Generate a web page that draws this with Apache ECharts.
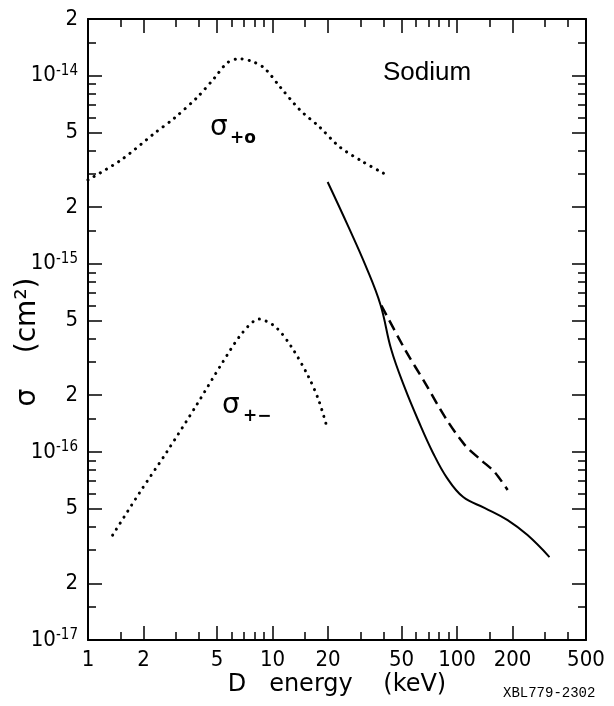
<!DOCTYPE html>
<html>
<head>
<meta charset="utf-8">
<script src="https://cdn.jsdelivr.net/npm/echarts@6/dist/echarts.min.js"></script>
<style>
  html, body { margin: 0; padding: 0; background: #fff; }
  #chart { width: 614px; height: 706px; }
</style>
</head>
<body>
<div id="chart"></div>
<script>
// D energy (keV) and cross section sigma (cm^2)
const plusZeroE = [1, 1.51, 2.3, 2.94, 3.92, 4.84, 5.69, 6.6, 7.56, 9.0, 11, 14.1, 18, 23.1, 31.1, 39.9]
const plusZeroSigma = [2.79e-15, 3.56e-15, 4.95e-15, 5.95e-15, 7.69e-15, 9.7e-15, 1.17e-14, 1.23e-14, 1.2e-14, 1.1e-14, 8.7e-15, 6.56e-15, 5.33e-15, 4.18e-15, 3.47e-15, 3.03e-15]

const plusMinusE = [1.36, 1.91, 2.67, 3.87, 5.34, 6.85, 8.46, 10.4, 12.7, 15.7, 17.8, 19.7]
const plusMinusSigma = [3.61e-17, 6.1e-17, 9.97e-17, 1.77e-16, 2.97e-16, 4.28e-16, 5.08e-16, 4.61e-16, 3.6e-16, 2.5e-16, 1.88e-16, 1.36e-16]

const solidE = [19.9, 25.8, 31.9, 38.5, 44, 52, 62, 74, 88, 108, 141.6, 188, 241, 317]
const solidSigma = [2.72e-15, 1.57e-15, 9.8e-16, 6.04e-16, 3.5e-16, 2.2e-16, 1.45e-16, 9.9e-17, 7.3e-17, 5.75e-17, 5.03e-17, 4.34e-17, 3.61e-17, 2.76e-17]

const dashedE = [38.9, 52.5, 67.2, 86.1, 110, 134.7, 160, 188]
const dashedSigma = [6.0e-16, 3.47e-16, 2.32e-16, 1.53e-16, 1.09e-16, 9.06e-17, 7.8e-17, 6.27e-17]

// tick labels
const xMajorTicks = [1, 2, 5, 10, 20, 50, 100, 200, 500]
const xMinorTicks = [1.5, 3, 4, 6, 7, 8, 9, 15, 30, 40, 60, 70, 80, 90, 150, 300, 400]
const yMajorTicks = [1e-17, 2e-17, 5e-17, 1e-16, 2e-16, 5e-16, 1e-15, 2e-15, 5e-15, 1e-14, 2e-14]
const yMinorMantissa = [1.5, 3, 4, 6, 7, 8, 9]
const yDecades = [-17, -16, -15, -14]

// the y axis works in units of 1e-17 cm^2 (log axis dislikes tiny numbers)
const UNIT = 1e-17
const toUnit = s => Math.round(s / UNIT * 1e6) / 1e6
const pairs = (xs, ys) => xs.map((x, i) => [x, toUnit(ys[i])])

const yMinorTicks = []
yDecades.forEach(d => yMinorMantissa.forEach(m => {
  const v = m * Math.pow(10, d)
  if (v < 2e-14) yMinorTicks.push(v)
}))

const numFont = '"Liberation Sans Narrow", "DejaVu Sans Condensed", "Liberation Sans", sans-serif'
const textFont = '"DejaVu Sans", "Liberation Sans", sans-serif'

const yLabel = v => {
  const p = Math.log10(v)
  const r = Math.round(p)
  if (Math.abs(p - r) < 1e-6) return '{b|10}{s|' + (r - 17) + '}'
  return '{b|' + Math.round(v / Math.pow(10, Math.floor(p + 1e-9))) + '}'
}

const line = { show: true, lineStyle: { color: '#000', width: 2 } }
const noLine = { show: false }

const xAx = (pos, ticks, len, withLine, withLabel) => ({
  type: 'log', min: 1, max: 500, position: pos,
  splitLine: { show: false },
  axisLine: withLine ? line : noLine,
  axisTick: { show: true, inside: true, length: len, customValues: ticks,
    lineStyle: { color: '#000', width: 1.5 } },
  axisLabel: withLabel ? {
    show: true, customValues: xMajorTicks, margin: 9, color: '#000',
    fontSize: 22, fontFamily: numFont, formatter: v => String(v)
  } : { show: false }
})

const yAx = (pos, ticks, len, withLine, withLabel) => ({
  type: 'log', min: 1, max: 2000, position: pos,
  splitLine: { show: false },
  axisLine: withLine ? line : noLine,
  axisTick: { show: true, inside: true, length: len, customValues: ticks.map(toUnit),
    lineStyle: { color: '#000', width: 1.5 } },
  axisLabel: withLabel ? {
    show: true, customValues: yMajorTicks.map(toUnit), margin: 10, color: '#000',
    formatter: yLabel,
    rich: {
      b: { fontSize: 22, fontFamily: numFont, color: '#000', lineHeight: 24 },
      s: { fontSize: 15, fontFamily: numFont, color: '#000', verticalAlign: 'top', lineHeight: 12 }
    }
  } : { show: false }
})

const chart = echarts.init(document.getElementById('chart'))

const xAxes = [
  xAx('bottom', xMajorTicks, 14, true, true),
  xAx('bottom', xMinorTicks, 8, false, false),
  xAx('top', xMajorTicks, 14, true, false),
  xAx('top', xMinorTicks, 8, false, false)
]
xAxes[0].name = 'D   energy    (keV)'
xAxes[0].nameLocation = 'middle'
xAxes[0].nameGap = 33
xAxes[0].nameMoveOverlap = false
xAxes[0].nameTextStyle = { fontSize: 24, fontFamily: textFont, color: '#000' }

const yAxes = [
  yAx('left', yMajorTicks, 14, true, true),
  yAx('left', yMinorTicks, 8, false, false),
  yAx('right', yMajorTicks, 14, true, false),
  yAx('right', yMinorTicks, 8, false, false)
]

const dotted = { color: '#000', width: 3, type: [0.1, 7], cap: 'round' }

chart.setOption({
  animation: false,
  backgroundColor: '#fff',
  grid: { left: 88, right: 28, top: 19, bottom: 66, containLabel: false, outerBoundsMode: 'none' },
  xAxis: xAxes,
  yAxis: yAxes,
  series: [
    { name: 'σ+0', type: 'line', data: pairs(plusZeroE, plusZeroSigma), showSymbol: false, smooth: 0.3, lineStyle: dotted },
    { name: 'σ+-', type: 'line', data: pairs(plusMinusE, plusMinusSigma), showSymbol: false, smooth: 0.3, lineStyle: dotted },
    { name: 'solid', type: 'line', data: pairs(solidE, solidSigma), showSymbol: false, smooth: 0.4,
      lineStyle: { color: '#000', width: 2 } },
    { name: 'dashed', type: 'line', data: pairs(dashedE, dashedSigma), showSymbol: false, smooth: 0.3,
      lineStyle: { color: '#000', width: 2.5, type: [11, 6] } }
  ],
  graphic: [
    // y axis title, reads bottom to top
    { type: 'text', x: 28, y: 342, rotation: Math.PI / 2,
      style: { text: 'σ    (cm²)', font: '28px "DejaVu Sans", sans-serif', fill: '#000', align: 'center', verticalAlign: 'middle' } },
    { type: 'text', left: 383, top: 60, style: { text: 'Sodium', font: '26px "Liberation Sans", sans-serif', fill: '#000' } },
    { type: 'text', left: 210, top: 114, style: { text: 'σ', font: '28px "DejaVu Sans", sans-serif', fill: '#000' } },
    { type: 'text', left: 230, top: 130, style: { text: '+o', font: 'bold 17px "DejaVu Sans", sans-serif', fill: '#000' } },
    { type: 'text', left: 222, top: 392, style: { text: 'σ', font: '28px "DejaVu Sans", sans-serif', fill: '#000' } },
    { type: 'text', left: 243, top: 408, style: { text: '+−', font: 'bold 17px "DejaVu Sans", sans-serif', fill: '#000' } },
    { type: 'text', left: 503, top: 686, style: { text: 'XBL779-2302', font: '14px "Liberation Mono", monospace', fill: '#000' } }
  ]
})
</script>
</body>
</html>
